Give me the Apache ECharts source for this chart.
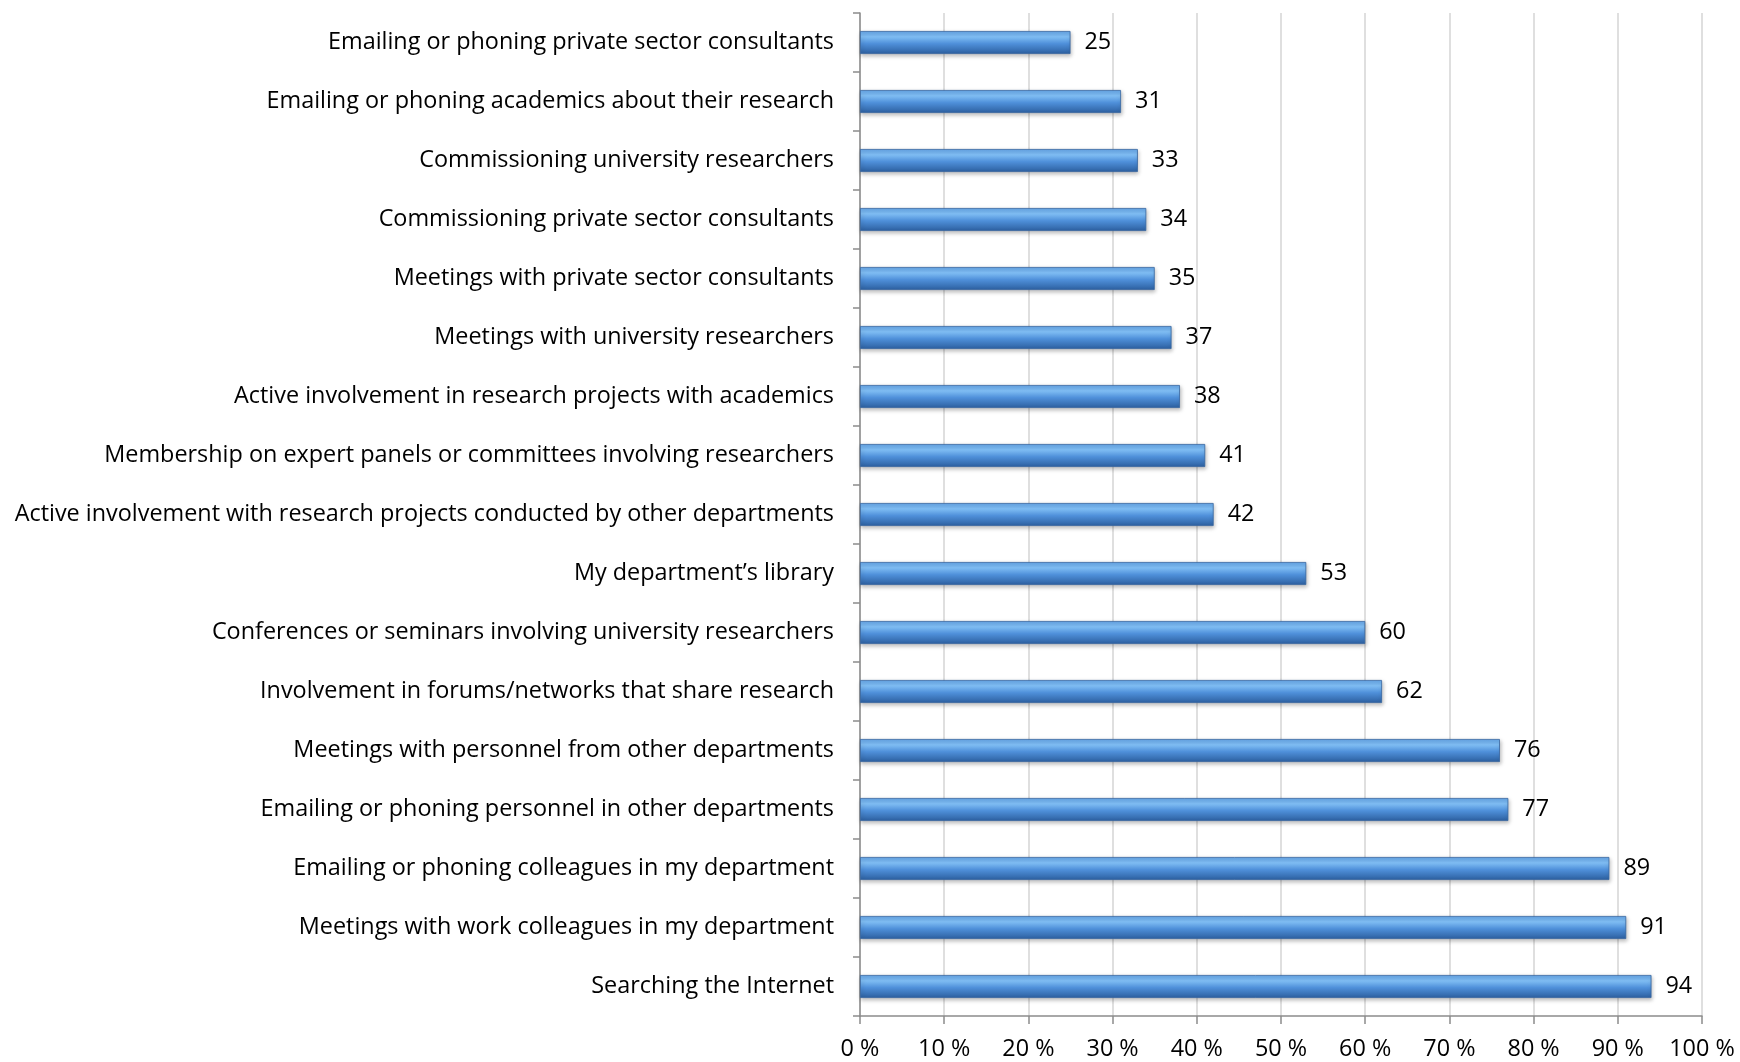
<!DOCTYPE html>
<html><head><meta charset="utf-8">
<script src="https://cdn.jsdelivr.net/npm/echarts@6/dist/echarts.min.js"></script>
<style>html,body{margin:0;padding:0;background:#fff}#c{width:1740px;height:1062px}</style>
</head><body><div id="c"></div>
<script>
const categories = [
  "Emailing or phoning private sector consultants",
  "Emailing or phoning academics about their research",
  "Commissioning university researchers",
  "Commissioning private sector consultants",
  "Meetings with private sector consultants",
  "Meetings with university researchers",
  "Active involvement in research projects with academics",
  "Membership on expert panels or committees involving researchers",
  "Active involvement with research projects conducted by other departments",
  "My department\u2019s library",
  "Conferences or seminars involving university researchers",
  "Involvement in forums/networks that share research",
  "Meetings with personnel from other departments",
  "Emailing or phoning personnel in other departments",
  "Emailing or phoning colleagues in my department",
  "Meetings with work colleagues in my department",
  "Searching the Internet"
];
const values = [25, 31, 33, 34, 35, 37, 38, 41, 42, 53, 60, 62, 76, 77, 89, 91, 94];
const xTicks = [0, 10, 20, 30, 40, 50, 60, 70, 80, 90, 100];

const FONT = "Open Sans";
const chart = echarts.init(document.getElementById('c'));
chart.setOption({
  animation: false,
  grid: {left: 860, right: 38, top: 13, bottom: 46, containLabel: false},
  xAxis: {
    type: 'value', min: xTicks[0], max: xTicks[xTicks.length-1], interval: 10,
    axisLine: {show: true, lineStyle: {color: '#8c8c8c', width: 1.5}},
    axisTick: {show: true, length: 8, lineStyle: {color: '#8c8c8c', width: 1.5}},
    splitLine: {show: true, lineStyle: {color: '#d4d4d4', width: 1.5}},
    axisLabel: {formatter: v => v + ' %', color: '#000', fontFamily: FONT, fontSize: 23.4, margin: 22}
  },
  yAxis: {
    type: 'category', data: categories, inverse: true,
    axisLine: {show: true, lineStyle: {color: '#8c8c8c', width: 1.5}},
    axisTick: {show: true, length: 7, alignWithLabel: false, lineStyle: {color: '#8c8c8c', width: 1.5}},
    axisLabel: {color: '#000', fontFamily: FONT, fontSize: 23.4, margin: 26, padding: [4, 0, 0, 0]}
  },
  series: [{
    type: 'bar', data: values, barWidth: 23,
    itemStyle: {
      color: new echarts.graphic.LinearGradient(0, 0, 0, 1, [
        {offset: 0, color: '#64a4e6'},
        {offset: 0.25, color: '#80bef4'},
        {offset: 0.55, color: '#4f90da'},
        {offset: 1, color: '#2c5f9f'}
      ]),
      borderColor: '#3564a0', borderWidth: 0.8,
      shadowColor: 'rgba(0,0,0,0.25)', shadowBlur: 4, shadowOffsetY: 2, shadowOffsetX: 1
    },
    label: {show: true, position: 'right', distance: 14, color: '#000', fontFamily: FONT, fontSize: 23.4, padding: [4, 0, 0, 0]}
  }]
});
</script></body></html>
